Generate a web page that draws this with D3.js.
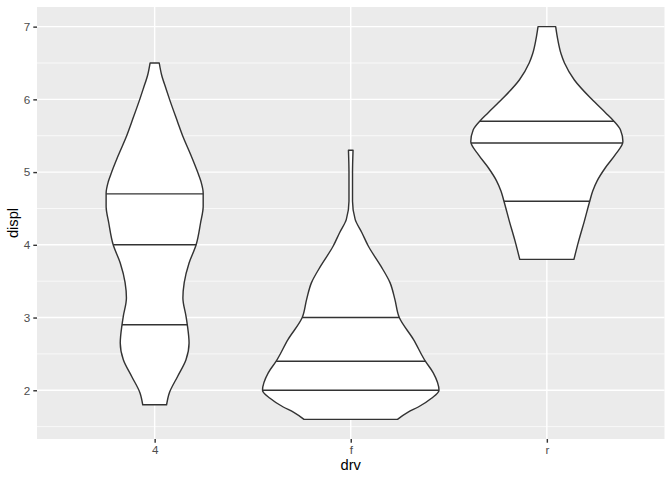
<!DOCTYPE html>
<html>
<head>
<meta charset="utf-8">
<script src="https://cdn.jsdelivr.net/npm/d3@7"></script>
<style>
  body { margin: 0; background: #fff; }
  text { font-family: "Liberation Sans", Arial, sans-serif; }
</style>
</head>
<body>
<svg id="vis-svg" width="672" height="480"></svg>
<script>
// drive train levels on the x axis
var drvLevels = ["4", "f", "r"];

// violin outlines: [displ, scaled density (widest = 1)]
var violin4 = [
  [1.8, 0.135], [1.96, 0.165], [2.19, 0.26], [2.42, 0.355], [2.65, 0.39],
  [2.9, 0.37], [3.02, 0.355], [3.27, 0.32], [3.48, 0.335], [3.75, 0.39],
  [4.0, 0.47], [4.3, 0.52], [4.53, 0.55], [4.71, 0.55], [4.87, 0.525],
  [5.0, 0.487], [5.235, 0.41], [5.5, 0.317], [5.69, 0.26], [6.01, 0.166],
  [6.15, 0.128], [6.335, 0.079], [6.5, 0.052]
];
var violinF = [
  [1.6, 0.53], [1.7, 0.65], [1.77, 0.765], [1.89, 0.915], [2.0, 1.0],
  [2.24, 0.935], [2.4, 0.845], [2.7, 0.71], [3.0, 0.55], [3.25, 0.5],
  [3.48, 0.445], [3.71, 0.34], [3.98, 0.2], [4.17, 0.125], [4.35, 0.05],
  [4.6, 0.02], [4.8, 0.02], [4.99, 0.02], [5.3, 0.026]
];
var violinR = [
  [3.8, 0.307], [4.05, 0.36], [4.33, 0.426], [4.6, 0.486], [4.74, 0.52],
  [4.88, 0.57], [5.06, 0.663], [5.24, 0.776], [5.42, 0.862], [5.58, 0.835],
  [5.7, 0.76], [5.81, 0.67], [6.0, 0.51], [6.27, 0.31], [6.5, 0.2],
  [6.63, 0.16], [6.82, 0.124], [7.0, 0.1]
];

// 25%, 50%, 75% quantiles drawn inside each violin
var quant4 = [2.9, 4.0, 4.7];
var quantF = [2.0, 2.4, 3.0];
var quantR = [4.6, 5.4, 5.7];

var yTicks = [2, 3, 4, 5, 6, 7];
var yMinor = [1.5, 2.5, 3.5, 4.5, 5.5, 6.5];

var groups = [
  { drv: "4", profile: violin4, quantiles: quant4 },
  { drv: "f", profile: violinF, quantiles: quantF },
  { drv: "r", profile: violinR, quantiles: quantR }
];

var panel = { left: 37, right: 664.5, top: 7, bottom: 439 };

var svg = d3.select("#vis-svg");

var x = d3.scalePoint()
    .domain(drvLevels)
    .range([panel.left, panel.right])
    .padding(0.6);

var y = d3.scaleLinear()
    .domain([1.33, 7.27])
    .range([panel.bottom, panel.top]);

// max violin half width is 0.45 of a category step
var halfW = 0.45 * x.step();

// panel background
svg.append("rect")
    .attr("x", panel.left)
    .attr("y", panel.top)
    .attr("width", panel.right - panel.left)
    .attr("height", panel.bottom - panel.top)
    .attr("fill", "#EBEBEB");

// minor then major grid lines
svg.selectAll(".grid-minor")
    .data(yMinor)
  .enter().append("line")
    .attr("class", "grid-minor")
    .attr("x1", panel.left).attr("x2", panel.right)
    .attr("y1", function(d) { return y(d); })
    .attr("y2", function(d) { return y(d); })
    .attr("stroke", "#fff")
    .attr("stroke-width", 0.71);

svg.selectAll(".grid-major-y")
    .data(yTicks)
  .enter().append("line")
    .attr("class", "grid-major-y")
    .attr("x1", panel.left).attr("x2", panel.right)
    .attr("y1", function(d) { return y(d); })
    .attr("y2", function(d) { return y(d); })
    .attr("stroke", "#fff")
    .attr("stroke-width", 1.42);

svg.selectAll(".grid-major-x")
    .data(drvLevels)
  .enter().append("line")
    .attr("class", "grid-major-x")
    .attr("y1", panel.top).attr("y2", panel.bottom)
    .attr("x1", function(d) { return x(d); })
    .attr("x2", function(d) { return x(d); })
    .attr("stroke", "#fff")
    .attr("stroke-width", 1.42);

// monotone in y keeps the outline from overshooting between read points
var area = d3.area()
    .curve(d3.curveMonotoneY)
    .y(function(d) { return y(d[0]); });

// right edge only, used to find where the quantile lines meet the outline
var edge = d3.line()
    .curve(d3.curveMonotoneY)
    .y(function(d) { return y(d[0]); });

groups.forEach(function(g) {
  var cx = x(g.drv);

  area.x0(function(d) { return cx - d[1] * halfW; })
      .x1(function(d) { return cx + d[1] * halfW; });

  svg.append("path")
      .attr("class", "violin")
      .attr("d", area(g.profile))
      .attr("fill", "#fff")
      .attr("stroke", "#333333")
      .attr("stroke-width", 1.42)
      .attr("stroke-linejoin", "round");

  edge.x(function(d) { return cx + d[1] * halfW; });
  var probe = svg.append("path")
      .attr("d", edge(g.profile))
      .attr("fill", "none")
      .attr("stroke", "none");
  var node = probe.node();
  var len = node.getTotalLength();
  var pts = [];
  for (var i = 0; i <= 600; i++) {
    pts.push(node.getPointAtLength(len * i / 600));
  }
  probe.remove();

  g.quantiles.forEach(function(q) {
    var py = y(q);
    var best = pts[0];
    for (var j = 1; j < pts.length; j++) {
      var a = pts[j - 1], b = pts[j];
      if ((a.y - py) * (b.y - py) <= 0 && a.y !== b.y) {
        var t = (py - a.y) / (b.y - a.y);
        best = { x: a.x + t * (b.x - a.x), y: py };
        break;
      }
    }
    var dx = best.x - cx;
    svg.append("line")
        .attr("class", "quantile")
        .attr("x1", cx - dx).attr("x2", cx + dx)
        .attr("y1", py).attr("y2", py)
        .attr("stroke", "#333333")
        .attr("stroke-width", 1.42);
  });
});

// axes
var yAxis = svg.append("g")
    .attr("transform", "translate(" + panel.left + ",0)")
    .call(d3.axisLeft(y).tickValues(yTicks).tickSize(3.7).tickPadding(3).tickFormat(d3.format("d")));

var xAxis = svg.append("g")
    .attr("transform", "translate(0," + panel.bottom + ")")
    .call(d3.axisBottom(x).tickSize(3.7).tickPadding(2.5));

[yAxis, xAxis].forEach(function(ax) {
  ax.select(".domain").remove();
  ax.selectAll(".tick line").attr("stroke", "#333333").attr("stroke-width", 1.42);
  ax.selectAll(".tick text")
      .attr("fill", "#4D4D4D")
      .style("font-size", "11.7px")
      .style("font-family", "'Liberation Sans', Arial, sans-serif");
});

svg.append("text")
    .attr("x", (panel.left + panel.right) / 2)
    .attr("y", 470)
    .attr("text-anchor", "middle")
    .attr("fill", "#000")
    .style("font-size", "14.7px")
    .text("drv");

svg.append("text")
    .attr("transform", "translate(18," + ((panel.top + panel.bottom) / 2) + ") rotate(-90)")
    .attr("text-anchor", "middle")
    .attr("fill", "#000")
    .style("font-size", "14.7px")
    .text("displ");
</script>
</body>
</html>
